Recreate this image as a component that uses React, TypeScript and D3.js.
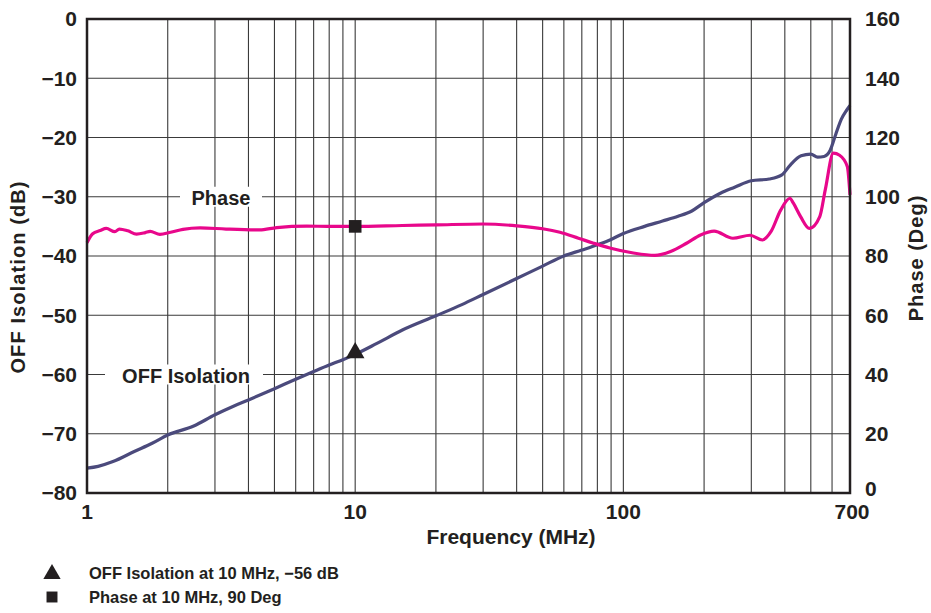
import React from "react";
import * as d3 from "d3";

// OFF isolation (dB) vs frequency (MHz)
const isoFreq = [1, 1.1, 1.25, 1.5, 1.75, 2, 2.5, 3, 3.5, 4, 5, 6, 7, 8, 9, 10, 12, 15, 20, 25, 30, 40, 50, 60, 70, 80, 90, 100, 120, 140, 160, 180, 200, 230, 260, 300, 350, 390, 420, 460, 500, 530, 560, 590, 620, 650, 680, 700];
const isoDb = [-75.8, -75.5, -74.7, -73.0, -71.6, -70.2, -68.7, -66.8, -65.4, -64.3, -62.4, -60.8, -59.5, -58.4, -57.5, -56.6, -54.8, -52.5, -50.1, -48.2, -46.5, -43.8, -41.7, -40.0, -39.0, -38.1, -37.2, -36.2, -35.0, -34.1, -33.3, -32.4, -31.0, -29.4, -28.4, -27.3, -27.0, -26.3, -24.6, -23.1, -22.8, -23.3, -23.2, -22.2, -19.4, -16.9, -15.4, -14.6];

// Phase (deg) vs frequency (MHz)
const phaseFreq = [1, 1.05, 1.12, 1.18, 1.27, 1.32, 1.42, 1.53, 1.65, 1.72, 1.87, 2.05, 2.28, 2.64, 3.3, 4.4, 5.1, 6.6, 8, 10, 15, 20, 30, 40, 50, 58, 68, 77, 89, 109, 131, 150, 172, 194, 218, 256, 297, 330, 355, 386, 418, 430, 458, 494, 540, 566, 607, 640, 684, 700];
const phaseDeg = [84.5, 87.5, 88.6, 89.3, 88.2, 89.1, 88.5, 87.4, 87.9, 88.3, 87.3, 88.0, 89.0, 89.5, 89.1, 88.8, 89.6, 90.1, 90.0, 90.0, 90.3, 90.5, 90.8, 90.2, 89.2, 88.0, 86.0, 84.4, 82.7, 81.0, 80.2, 81.5, 84.3, 87.1, 88.4, 86.0, 87.0, 85.4, 88.2, 95.5, 99.5, 97.9, 93.3, 89.3, 93.3, 102.3, 114.7, 114.0, 110.2, 100.6];

const xTicks = [1, 10, 100, 700];
const xGrid = [2, 3, 4, 5, 6, 7, 8, 9, 10, 20, 30, 40, 50, 60, 70, 80, 90, 100, 200, 300, 400, 500, 600];
const leftTicks = [0, -10, -20, -30, -40, -50, -60, -70, -80];
const rightTicks = [160, 140, 120, 100, 80, 60, 40, 20, 0];

const markerIso = { f: 10, v: -56 };
const markerPhase = { f: 10, v: 90 };

const legendItems = ["OFF Isolation at 10 MHz, \u221256 dB", "Phase at 10 MHz, 90 Deg"];

const FONT = "'Liberation Sans', Arial, Helvetica, sans-serif";
const INK = "#231f20";

export default function App() {
  const left = 87, right = 850, top = 19, bottom = 493;
  const x = d3.scaleLog().domain([1, 700]).range([left, right]);
  const yL = d3.scaleLinear().domain([-80, 0]).range([bottom, top]);
  const yR = d3.scaleLinear().domain([0, 160]).range([bottom, top]);

  const isoLine = d3
    .line<number>()
    .x((d, i) => x(isoFreq[i]))
    .y((d) => yL(d))
    .curve(d3.curveMonotoneX);
  const phaseLine = d3
    .line<number>()
    .x((d, i) => x(phaseFreq[i]))
    .y((d) => yR(d))
    .curve(d3.curveMonotoneX);

  const tri = d3.symbol(d3.symbolTriangle, 150)();
  const sq = d3.symbol(d3.symbolSquare, 160)();

  return (
    <svg
      width={931}
      height={613}
      style={{ position: "absolute", left: 0, top: 0, background: "#fff" }}
      fontFamily={FONT}
      fontWeight="bold"
    >
      <rect width={931} height={613} fill="#fff" />
      {/* grid */}
      {xGrid.map((f) => (
        <line key={"v" + f} x1={x(f)} x2={x(f)} y1={top} y2={bottom} stroke="#3a3a3a" strokeWidth={1.1} />
      ))}
      {leftTicks.map((v) => (
        <line key={"h" + v} x1={left} x2={right} y1={yL(v)} y2={yL(v)} stroke="#3a3a3a" strokeWidth={1.1} />
      ))}

      {/* in-plot labels with white boxes */}
      <rect x={180} y={yR(100) - 10} width={82} height={20} fill="#fff" />
      <text x={221} y={205} textAnchor="middle" fontSize={20} fill={INK}>Phase</text>
      <rect x={105} y={yL(-60) - 10} width={158} height={20} fill="#fff" />
      <text x={186} y={383} textAnchor="middle" fontSize={20} fill={INK}>OFF Isolation</text>

      {/* curves */}
      <path d={isoLine(isoDb) || ""} fill="none" stroke="#4b4a7c" strokeWidth={3.2} strokeLinejoin="round" />
      <path d={phaseLine(phaseDeg) || ""} fill="none" stroke="#e8078b" strokeWidth={3.2} strokeLinejoin="round" />

      {/* markers */}
      <path d={tri || ""} transform={`translate(${x(markerIso.f)},${yL(markerIso.v) + 2})`} fill={INK} />
      <path d={sq || ""} transform={`translate(${x(markerPhase.f)},${yR(markerPhase.v)})`} fill={INK} />

      {/* frame */}
      <rect x={left} y={top} width={right - left} height={bottom - top} fill="none" stroke={INK} strokeWidth={2.5} />

      {/* left axis */}
      {leftTicks.map((v) => (
        <text key={"l" + v} x={77} y={yL(v)} dy="0.35em" textAnchor="end" fontSize={21} fill={INK}>
          {v === 0 ? "0" : "\u2212" + Math.abs(v)}
        </text>
      ))}
      {/* right axis */}
      {rightTicks.map((v) => (
        <text key={"r" + v} x={865} y={v === 0 ? yR(v) - 4 : yR(v)} dy="0.35em" textAnchor="start" fontSize={21} fill={INK}>
          {v}
        </text>
      ))}
      {/* bottom axis */}
      {xTicks.map((f) => (
        <text key={"x" + f} x={f === 700 ? x(f) + 2 : x(f)} y={519} textAnchor="middle" fontSize={21} fill={INK}>
          {f}
        </text>
      ))}

      <text x={511} y={544} textAnchor="middle" fontSize={21} fill={INK}>Frequency (MHz)</text>
      <text transform="translate(25,277) rotate(-90)" textAnchor="middle" fontSize={20} letterSpacing={1.1} fill={INK}>
        OFF Isolation (dB)
      </text>
      <text transform="translate(923,258) rotate(-90)" textAnchor="middle" fontSize={20} letterSpacing={1} fill={INK}>
        Phase (Deg)
      </text>

      {/* legend */}
      <path d={d3.symbol(d3.symbolTriangle, 130)() || ""} transform="translate(52,574)" fill={INK} />
      <text x={89} y={579} fontSize={16.5} fill={INK}>{legendItems[0]}</text>
      <path d={d3.symbol(d3.symbolSquare, 120)() || ""} transform="translate(52,597)" fill={INK} />
      <text x={89} y={603} fontSize={16.5} fill={INK}>{legendItems[1]}</text>
    </svg>
  );
}
